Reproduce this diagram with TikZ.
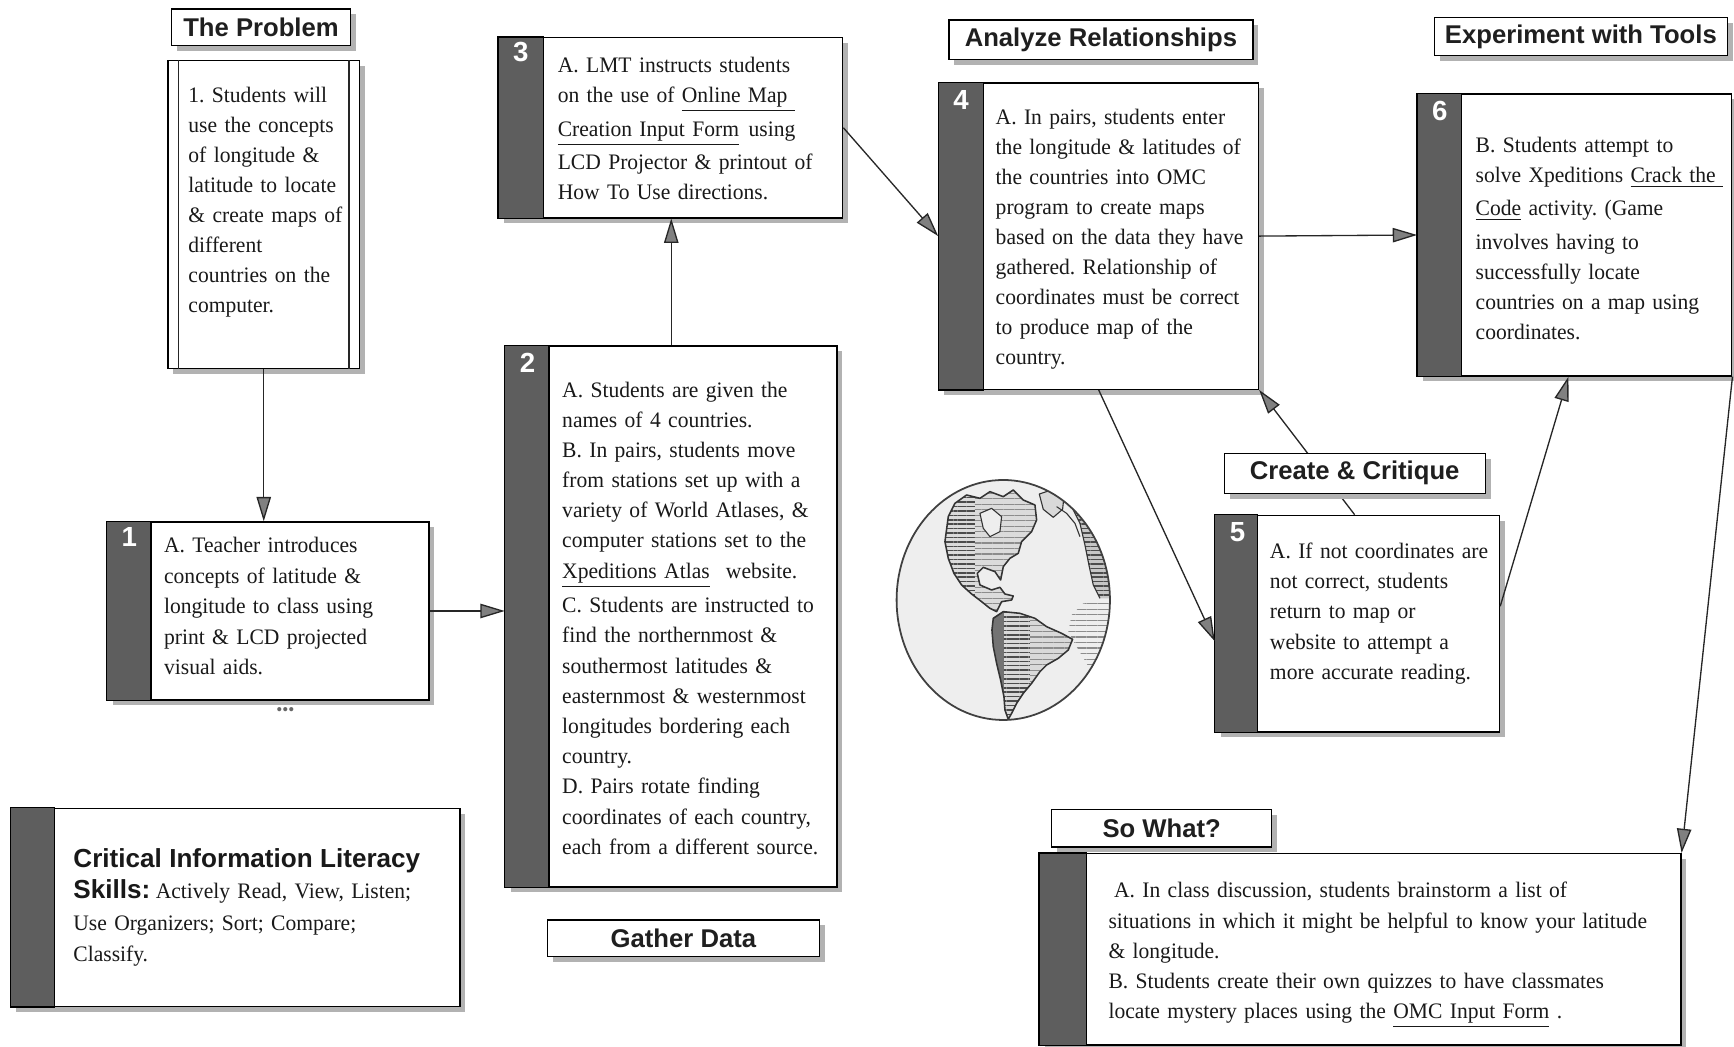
\documentclass[tikz,border=0pt]{standalone}
\usepackage{fontspec}
\setmainfont{Liberation Serif}[FakeStretch=0.975]
\newfontfamily\headfont{Liberation Sans}
\usetikzlibrary{arrows.meta, fit, shadows, calc, patterns.meta}
\frenchspacing

\newcommand\hd{\headfont\bfseries\fontsize{11.8}{14.3}\selectfont}

\tikzset{
  x=0.5pt, y=-0.5pt,
  frame/.style={draw=black, fill=white, line width=0.6pt, inner sep=0pt,
    drop shadow={shadow xshift=2.4pt, shadow yshift=-2.4pt, fill=gray!60, opacity=1}},
  strip/.style={fill=black!63, draw=black, line width=0.6pt},
  num/.style={text=white, font=\headfont\bfseries\fontsize{12.5}{12.5}\selectfont, inner sep=0pt},
  tag/.style={frame, font=\headfont\bfseries\fontsize{11.6}{12}\selectfont, text=black!88},
  body/.style={anchor=base west, inner sep=0pt, align=left, text width=#1, text=black!90},
  conn/.style={line width=0.6pt, draw=black!85, -{Triangle[length=11pt, width=6.5pt, fill=black!50]}},
  link/.style={line width=0.6pt, draw=black!85},
  coast/.style={draw=black!80, line width=0.5pt, line join=round},
  hatch/.style={pattern={Lines[angle=0, distance=2pt, line width=0.7pt]}, pattern color=black!70},
  lighthatch/.style={pattern={Lines[angle=0, distance=2.5pt, line width=0.5pt]}, pattern color=black!45},
}

\begin{document}
\begin{tikzpicture}
\useasboundingbox (0,0) rectangle (1568,946);

% ---------- boxes ----------
\node[frame, fit={(152,55) (325,333)}] (prob) {};
\draw[link] ([xshift=5pt]prob.north west) -- ([xshift=5pt]prob.south west);
\draw[link] ([xshift=-5pt]prob.north east) -- ([xshift=-5pt]prob.south east);

\node[frame, fit={(97,472) (388,633)}] (b1) {};
\node[frame, fit={(457,313) (757,802)}] (b2) {};
\node[frame, fit={(451,34) (762,197)}] (b3) {};
\node[frame, fit={(849,75) (1138,352)}] (b4) {};
\node[frame, fit={(1099,466) (1356,662)}] (b5) {};
\node[frame, fit={(1282,85) (1566,340)}] (b6) {};
\node[frame, fit={(940,772) (1520,945)}] (sw) {};
\node[frame, fit={(10,731) (416,910)}] (cil) {};

% dark strips along the left edges
\foreach \b/\w in {b1/20pt, b2/20pt, b3/20.5pt, b4/20.5pt, b5/19.5pt, b6/20pt, sw/21.5pt, cil/20pt}
  \filldraw[strip] (\b.north west) rectangle ([xshift=\w]\b.south west);

% step numbers
\node[num] (n1) at (117,486) {1};
\node[num] (n2) at (477,328) {2};
\node[num] (n3) at (471,47) {3};
\node[num] (n4) at (869,90) {4};
\node[num] (n5) at (1119,481) {5};
\node[num] (n6) at (1302,100) {6};

% ---------- texts ----------
\node[body=150pt, font=\fontsize{10}{13.55}\selectfont] (tprob) at (170,93)
  {1. Students will\\ use the concepts\\ of longitude \&\\ latitude to locate\\ \& create maps of\\ different\\ countries on the\\ computer.};

\node[body=150pt, font=\fontsize{10}{13.75}\selectfont] (t1) at (148,500)
  {A. Teacher introduces\\ concepts of latitude \&\\ longitude to class using\\ print \& LCD projected\\ visual aids.};

\node[body=150pt, font=\fontsize{10}{13.65}\selectfont] (t2) at (508,359)
  {A. Students are given the\\ names of 4 countries.\\ B. In pairs, students move\\ from stations set up with a\\
   variety of World Atlases, \&\\ computer stations set to the\\ \underline{Xpeditions Atlas}\hspace{4pt} website.\\[2pt]
   C. Students are instructed to\\ find the northernmost \&\\ southermost latitudes \&\\ easternmost \& westernmost\\
   longitudes bordering each\\ country.\\ D. Pairs rotate finding\\ coordinates of each country,\\ each from a different source.};

\node[body=150pt, font=\fontsize{10}{13.25}\selectfont] (t3) at (504,66)
  {A. LMT instructs students\\ on the use of \underline{Online Map\ }\\[2.25pt]
   \underline{Creation Input Form}\hspace{1pt} using\\[1.75pt] LCD Projector \& printout of\\ How To Use directions.};

\node[body=150pt, font=\fontsize{10}{13.55}\selectfont] (t4) at (900,113)
  {A. In pairs, students enter\\ the longitude \& latitudes of\\ the countries into OMC\\ program to create maps\\
   based on the data they have\\ gathered. Relationship of\\ coordinates must be correct\\ to produce map of the\\ country.};

\node[body=150pt, font=\fontsize{10}{13.6}\selectfont] (t6) at (1334,138)
  {B. Students attempt to\\ solve Xpeditions \underline{Crack the\ }\\[1.4pt] \underline{Code} activity. (Game\\[1.4pt]
   involves having to\\ successfully locate\\ countries on a map using\\ coordinates.};

\node[body=150pt, font=\fontsize{10}{13.65}\selectfont] (t5) at (1148,505)
  {A. If not coordinates are\\ not correct, students\\ return to map or\\ website to attempt a\\ more accurate reading.};

\node[body=280pt, font=\fontsize{10}{13.6}\selectfont] (tsw) at (1002,812)
  {\hspace{2.5pt}A. In class discussion, students brainstorm a list of\\
   situations in which it might be helpful to know your latitude\\ \& longitude.\\
   B. Students create their own quizzes to have classmates\\
   locate mystery places using the \underline{OMC Input Form}\ .};

\node[body=200pt, font=\fontsize{10}{14.3}\selectfont] (tcil) at (66,784)
  {{\hd Critical Information Literacy}\\ {\hd Skills:}\hspace{2.5pt}Actively Read, View, Listen;\\ Use Organizers; Sort; Compare;\\ Classify.};

\node[font=\fontsize{8}{8}\selectfont, text=black!60, inner sep=0pt] (dots) at (258,643) {\textbullet\textbullet\textbullet};

% ---------- connectors ----------
\draw[conn] (prob.south) -- (prob.south |- b1.north);
\draw[conn] (b1.east) -- (b1.east -| b2.west);
\draw[conn] (b2.north) -- (b2.north |- b3.south);
\draw[conn] (b3.east) -- (b4.west);
\draw[conn] (b4.east) -- (b6.west);
\draw[conn] (b4.south) -- ($(b5.north west)!0.58!(b5.south west)$);
\draw[conn] ($(b5.north west)!0.49!(b5.north east)$) -- (b4.south east);
\draw[conn] ($(b5.north east)!0.42!(b5.south east)$) -- ($(b6.south west)!0.48!(b6.south east)$);
\draw[conn] (b6.south east) -- (sw.north east);

% ---------- heading tags ----------
\node[tag, minimum width=81pt, minimum height=16.5pt] (hprob) at (236,24.5) {The Problem};
\node[tag, minimum width=137.5pt, minimum height=18pt] (hana) at (995.5,36) {Analyze Relationships};
\node[tag, minimum width=132.5pt, minimum height=17pt] (hexp) at (1429.5,33) {Experiment with Tools};
\node[tag, minimum width=118pt, minimum height=18pt] (hcre) at (1225,428) {Create \& Critique};
\node[tag, minimum width=99.5pt, minimum height=17pt] (hsw) at (1050.5,749) {So What?};
\node[tag, minimum width=123pt, minimum height=16.5pt] (hgat) at (618,848.5) {Gather Data};

% ---------- globe ----------
\begin{scope}[shift={(795.7,425)}, scale=0.3014]
  \fill[gray!13] (370,390) ellipse [x radius=320, y radius=360];
  \begin{scope}
    \clip (370,390) ellipse [x radius=320, y radius=360];
    % eastern limb (Europe / Africa)
    \def\limb{(575,110) -- (600,160) -- (615,225) -- (628,290) -- (640,345) -- (660,385)
       -- (720,385) -- (720,90) -- cycle}
    \fill[gray!45] \limb;
    \fill[hatch] \limb;
    \draw[coast] (575,110) -- (600,160) -- (615,225) -- (628,290) -- (640,345) -- (660,385);
    \fill[lighthatch]
       (610,400) -- (575,435) -- (565,485) -- (590,530) -- (620,580) -- (650,640) -- (720,640) -- (720,395) -- cycle;
    % Greenland and the arctic coast
    \filldraw[coast, fill=gray!30] (478,72) -- (515,60) -- (552,80) -- (548,118) -- (520,142) -- (490,118) -- cycle;
    \draw[coast] (530,110) -- (560,130) -- (585,160) -- (600,200);
  \end{scope}
  % North America
  \def\northam{(205,140) -- (225,100) -- (260,75) -- (300,85) -- (330,65) -- (370,80) -- (400,60)
    -- (430,90) -- (465,105) -- (470,150) -- (455,185) -- (425,215) -- (415,250) -- (390,265)
    -- (370,290) -- (362,330) -- (345,305) -- (310,292) -- (292,310) -- (300,345) -- (335,360)
    -- (360,352) -- (375,372) -- (400,378) -- (395,390) -- (365,395) -- (350,425) -- (330,415)
    -- (305,395) -- (275,372) -- (245,345) -- (222,310) -- (205,265) -- (195,215) -- cycle}
  \fill[gray!28] \northam;
  \begin{scope}
    \clip \northam;
    \fill[hatch] (180,50) rectangle (285,430);
    \fill[lighthatch] (285,50) rectangle (480,430);
  \end{scope}
  \draw[coast, line width=0.7pt] \northam;
  \filldraw[coast, fill=gray!13] (300,130) -- (335,115) -- (365,140) -- (360,185) -- (330,200) -- (310,175) -- cycle;
  % South America
  \def\southam{(340,445) -- (370,425) -- (420,430) -- (465,445) -- (500,470) -- (545,490) -- (578,508)
    -- (565,540) -- (535,565) -- (500,585) -- (480,605) -- (455,640) -- (430,670) -- (410,700)
    -- (395,730) -- (385,748) -- (375,720) -- (372,680) -- (362,630) -- (350,580) -- (340,530)
    -- (336,480) -- cycle}
  \fill[gray!30] \southam;
  \begin{scope}
    \clip \southam;
    \fill[black!55] (320,420) rectangle (372,760);
    \fill[hatch] (372,420) rectangle (450,760);
    \fill[lighthatch] (450,420) rectangle (600,760);
  \end{scope}
  \draw[coast, line width=0.7pt] \southam;
  \draw[black!75, line width=0.8pt] (370,390) ellipse [x radius=320, y radius=360];
\end{scope}

\end{tikzpicture}
\end{document}
